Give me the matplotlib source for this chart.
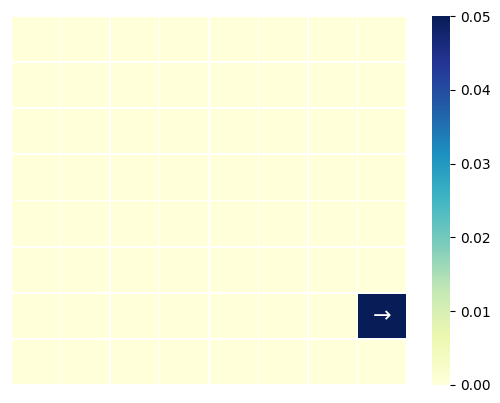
import matplotlib

matplotlib.use("Agg")

import matplotlib.pyplot as plt
import numpy as np
import seaborn as sns

# 8x8 grid of values, single non-zero cell
n_rows = 8
n_cols = 8
hot_row = 6
hot_col = 7
hot_value = 0.05
arrow_label = "→"

values = np.zeros((n_rows, n_cols))
values[hot_row, hot_col] = hot_value
labels = np.full((n_rows, n_cols), "", dtype=object)
labels[hot_row, hot_col] = arrow_label

fig = plt.figure(figsize=(5.0, 4.03), dpi=100)
ax = fig.add_axes([0.022, 0.045, 0.792, 0.915])
cax = fig.add_axes([0.864, 0.045, 0.036, 0.915])

sns.heatmap(
    values,
    ax=ax,
    cbar_ax=cax,
    cmap="YlGnBu",
    vmin=0.0,
    vmax=0.05,
    linewidths=0.7,
    linecolor="white",
    annot=labels,
    fmt="",
    annot_kws={"fontsize": 16, "color": "white"},
    xticklabels=False,
    yticklabels=False,
)
ax.collections[0].set_snap(False)
cax.set_yticks([0.0, 0.01, 0.02, 0.03, 0.04, 0.05])
cax.set_yticklabels(["0.00", "0.01", "0.02", "0.03", "0.04", "0.05"])
cax.tick_params(labelsize=10)

fig.savefig("out.png", dpi=100)
plt.close(fig)
